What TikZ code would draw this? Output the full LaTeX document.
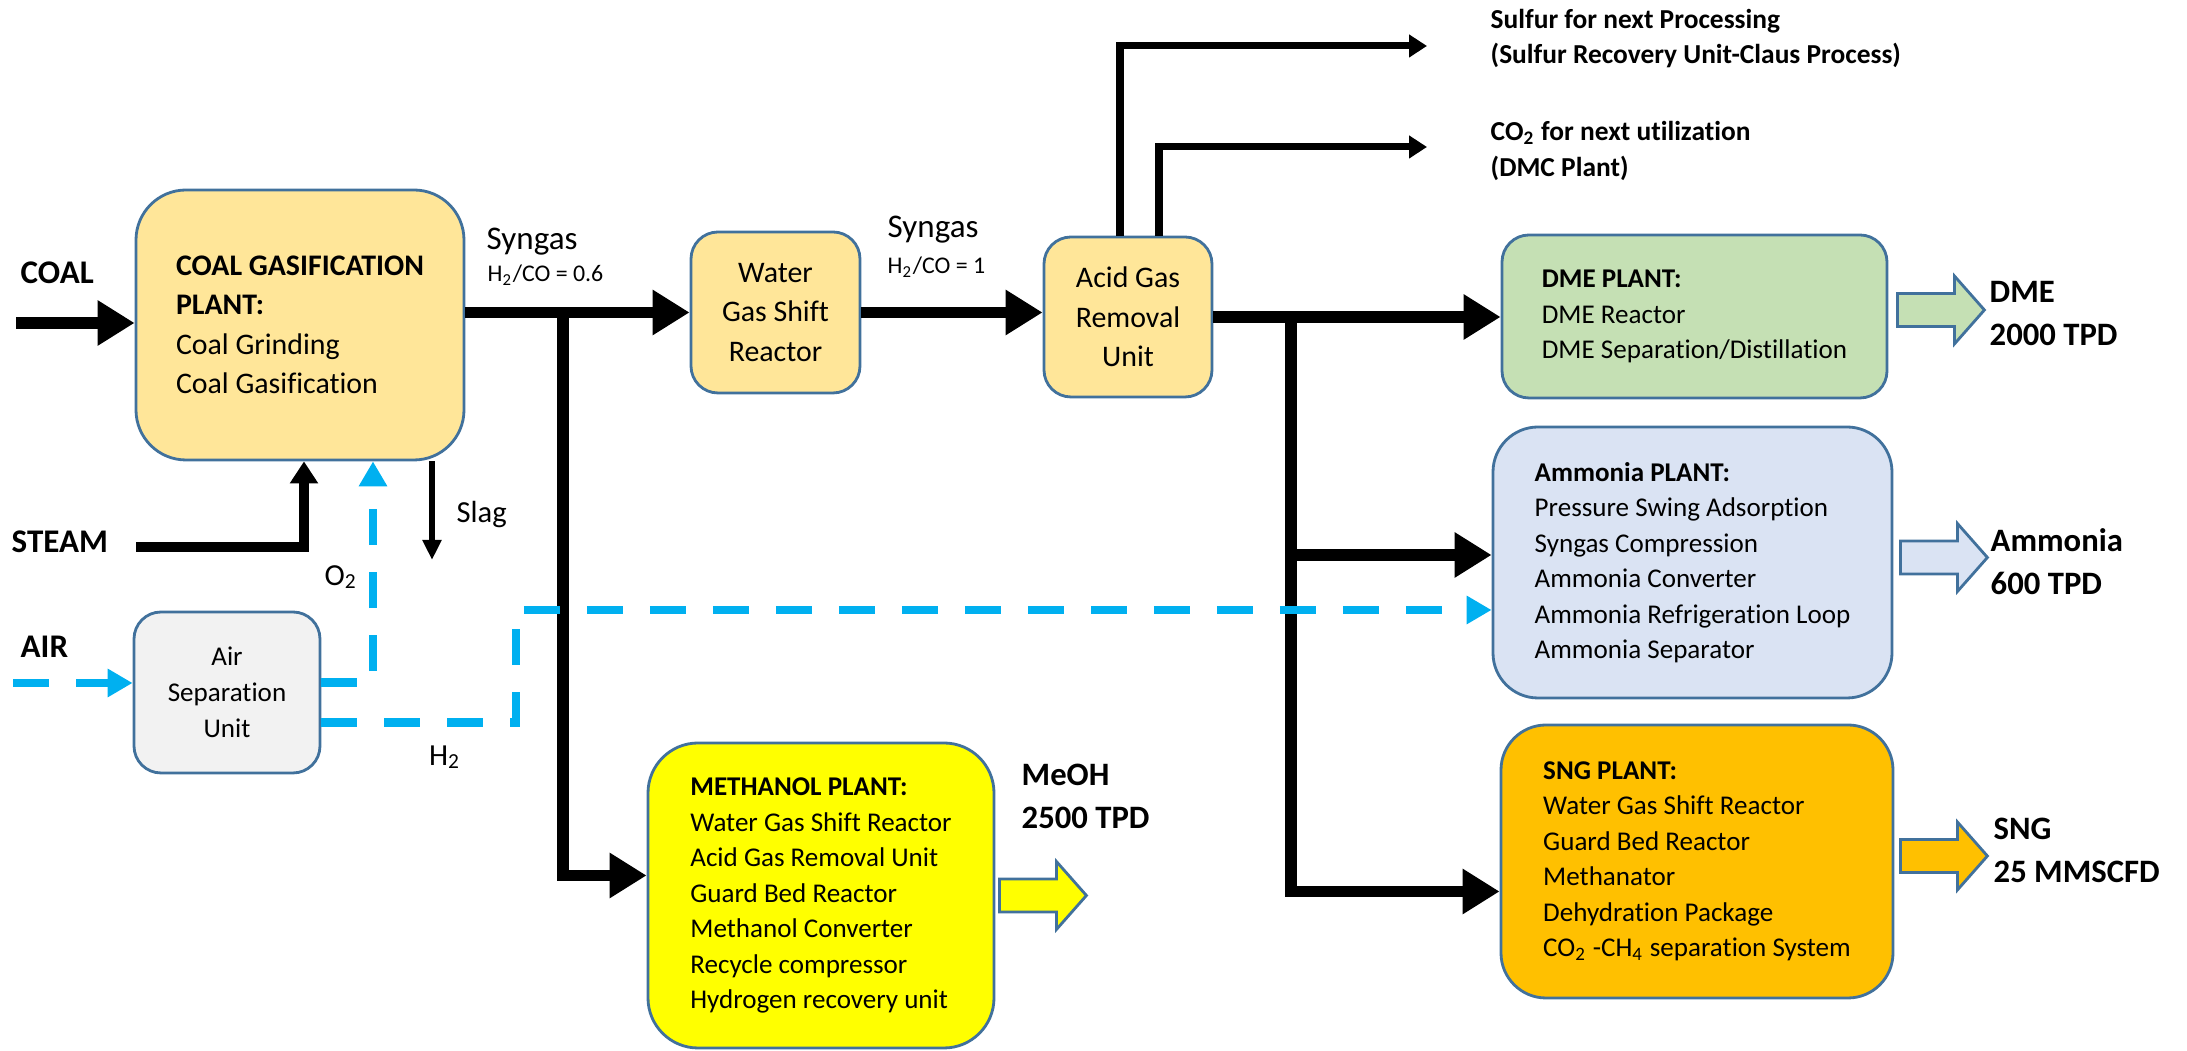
\documentclass[tikz,border=0pt]{standalone}
\usepackage{fontspec}
\setmainfont{Carlito}[Ligatures=NoCommon]
\usetikzlibrary{arrows.meta}

\definecolor{gasgold}{HTML}{FFE699}
\definecolor{dmegreen}{HTML}{C5E0B4}
\definecolor{nhblue}{HTML}{DAE3F3}
\definecolor{sngorange}{HTML}{FFC000}
\definecolor{meohyellow}{HTML}{FFFF00}
\definecolor{asugray}{HTML}{F2F2F2}
\definecolor{airblue}{HTML}{00B0F0}
\definecolor{edgeblue}{HTML}{41719C}

\tikzset{
    prodarrow/.pic={
        \path[draw=edgeblue, line width=0.8pt, pic actions]
            (0,-0.165) -- (0.57,-0.165) -- (0.57,-0.34) -- (0.87,0)
            -- (0.57,0.34) -- (0.57,0.165) -- (0,0.165) -- cycle;
    }
}

\begin{document}
\begin{tikzpicture}[
    unit/.style={draw=edgeblue, line width=0.8pt, fill=#1, rounded corners=2.7mm, inner sep=0pt, align=center, font=\fontsize{8.5}{11.2}\selectfont},
    plant/.style={draw=edgeblue, line width=0.8pt, fill=#1, rounded corners=4.5mm, inner sep=0pt, align=left, font=\fontsize{7.7}{10.1}\selectfont},
    tag/.style={inner sep=0pt, anchor=west, font=\fontsize{9.4}{11}\selectfont\bfseries},
    note/.style={inner sep=0pt, anchor=west, font=\fontsize{9.4}{11}\selectfont},
    ratio/.style={inner sep=0pt, anchor=west, font=\fontsize{6.8}{8}\selectfont},
    bytag/.style={inner sep=0pt, anchor=west, align=left, font=\fontsize{7.8}{10}\selectfont\bfseries},
    prodtag/.style={inner sep=0pt, anchor=west, align=left, font=\fontsize{9.3}{12.2}\selectfont\bfseries},
    flow/.style={line width=3.4pt, -{Triangle[length=3.7mm, width=4.3mm]}},
    side/.style={line width=2pt, -{Triangle[length=1.8mm, width=2.2mm]}},
    steamline/.style={line width=2.8pt, -{Triangle[length=2.2mm, width=2.7mm]}},
    slagline/.style={line width=1.9pt, -{Triangle[length=2mm, width=1.8mm]}},
    airline/.style={airblue, line width=2.5pt, dash pattern=on 3.6mm off 2.7mm, -{Triangle[length=2.5mm, width=2.7mm]}}
]
\useasboundingbox (0,0) rectangle (21.87,10.51);

% Process units
\node[plant=gasgold, rounded corners=5mm, font=\fontsize{8.5}{11.2}\selectfont, minimum width=3.28cm, minimum height=2.70cm] (coal) at (3.00,7.26)
    {\textbf{COAL GASIFICATION}\\\textbf{PLANT:}\\Coal Grinding\\Coal Gasification};
\node[unit=gasgold, minimum width=1.69cm, minimum height=1.61cm] (wgs) at (7.755,7.385) {Water\\Gas Shift\\Reactor};
\node[unit=gasgold, minimum width=1.68cm, minimum height=1.60cm] (agr) at (11.28,7.34) {Acid Gas\\Removal\\Unit};
\node[unit=asugray, font=\fontsize{7.7}{10.2}\selectfont, minimum width=1.86cm, minimum height=1.61cm] (asu) at (2.27,3.585) {Air\\Separation\\Unit};

% Product plants
\node[plant=dmegreen, rounded corners=2.7mm, minimum width=3.85cm, minimum height=1.63cm] (dme) at (16.945,7.345)
    {\textbf{DME PLANT:}\\DME Reactor\\DME Separation/Distillation};
\node[plant=nhblue, minimum width=3.99cm, minimum height=2.71cm] (amm) at (16.925,4.885)
    {\textbf{Ammonia PLANT:}\\Pressure Swing Adsorption\\Syngas Compression\\Ammonia Converter\\Ammonia Refrigeration Loop\\Ammonia Separator};
\node[plant=sngorange, minimum width=3.92cm, minimum height=2.73cm] (sng) at (16.97,1.895)
    {\textbf{SNG PLANT:}\\Water Gas Shift Reactor\\Guard Bed Reactor\\Methanator\\Dehydration Package\\CO\textsubscript{2} -CH\textsubscript{4} separation System};
\node[plant=meohyellow, rounded corners=5mm, minimum width=3.46cm, minimum height=3.05cm] (meoh) at (8.21,1.555)
    {\textbf{METHANOL PLANT:}\\Water Gas Shift Reactor\\Acid Gas Removal Unit\\Guard Bed Reactor\\Methanol Converter\\Recycle compressor\\Hydrogen recovery unit};

% Stream labels
\node[tag] (coaltag) at (0.20,7.78) {COAL};
\node[tag] (steamtag) at (0.11,5.09) {STEAM};
\node[tag] (airtag) at (0.20,4.04) {AIR};
\node[note] (syn1) at (4.86,8.09) {Syngas};
\node[ratio] (ratio1) at (4.87,7.76) {H\textsubscript{2}/CO = 0.6};
\node[note] (syn2) at (8.87,8.21) {Syngas};
\node[ratio] (ratio2) at (8.87,7.84) {H\textsubscript{2}/CO = 1};
\node[note, font=\fontsize{8.7}{10}\selectfont] (slagtag) at (4.56,5.36) {Slag};
\node[note, anchor=center, font=\fontsize{8.7}{10}\selectfont] (o2tag) at (3.41,4.74) {O\textsubscript{2}};
\node[note, anchor=center, font=\fontsize{8.7}{10}\selectfont] (h2tag) at (4.45,2.94) {H\textsubscript{2}};
\node[bytag] (sulfurtag) at (14.90,10.125) {Sulfur for next Processing\\(Sulfur Recovery Unit-Claus Process)};
\node[bytag] (co2tag) at (14.90,9.00) {CO\textsubscript{2} for next utilization\\(DMC Plant)};

% Product outputs
\pic[fill=dmegreen] at ([xshift=0.9mm, yshift=0.65mm]dme.east) {prodarrow};
\pic[fill=nhblue] at ([xshift=0.7mm, yshift=0.5mm]amm.east) {prodarrow};
\pic[fill=sngorange] at ([xshift=0.6mm, yshift=0.55mm]sng.east) {prodarrow};
\pic[fill=meohyellow] at ([xshift=0.4mm]meoh.east) {prodarrow};
\node[prodtag] (dmetag) at (19.89,7.375) {DME\\2000 TPD};
\node[prodtag] (ammtag) at (19.90,4.895) {Ammonia\\600 TPD};
\node[prodtag] (sngtag) at (19.93,2.01) {SNG\\25 MMSCFD};
\node[prodtag] (meohtag) at (10.21,2.545) {MeOH\\2500 TPD};

% Branch points and free ends
\coordinate (coalin) at (0.16,7.28);
\coordinate (split1) at (5.63,7.385);
\coordinate (split2) at (12.91,7.34);
\coordinate (meohin) at ([yshift=2mm]meoh.west);
\coordinate (ammin) at ([yshift=0.75mm]amm.west);
\coordinate (sngin) at ([yshift=-3mm]sng.west);
\coordinate (sulfurout) at (14.27,10.05);
\coordinate (co2out) at (14.27,9.04);
\coordinate (steamin) at (1.36,5.04);
\coordinate (slagout) at (4.32,4.91);
\coordinate (airin) at (0.13,3.68);
\coordinate (h2up) at (5.16,4.41);

% Syngas train
\draw[flow] (coalin) -- (coalin -| coal.west);
\draw[flow] (coal.east |- wgs.west) -- (wgs.west);
\draw[flow] (wgs.east) -- (wgs.east -| agr.west);
\draw[flow] (agr.east) -- (agr.east -| dme.west);
\draw[flow] (split1) |- (meohin);
\draw[flow] (split2) |- (sngin);
\draw[flow] (split2 |- ammin) -- (ammin);

% Acid gas by-products
\draw[side] ([xshift=-0.8mm]agr.north) |- (sulfurout);
\draw[side] ([xshift=3.1mm]agr.north) |- (co2out);

% Steam and slag
\draw[steamline] (steamin) -| ([xshift=0.4mm]coal.south);
\draw[slagline] (coal.south -| slagout) -- (slagout);

% Air separation
\draw[airline] (airin) -- (airin -| asu.west);
\draw[airline] ([yshift=1mm]asu.east) -| ([xshift=7.3mm]coal.south);
\draw[airline] ([yshift=-3mm]asu.east) -| (h2up) -- (h2up -| amm.west);
\end{tikzpicture}
\end{document}
